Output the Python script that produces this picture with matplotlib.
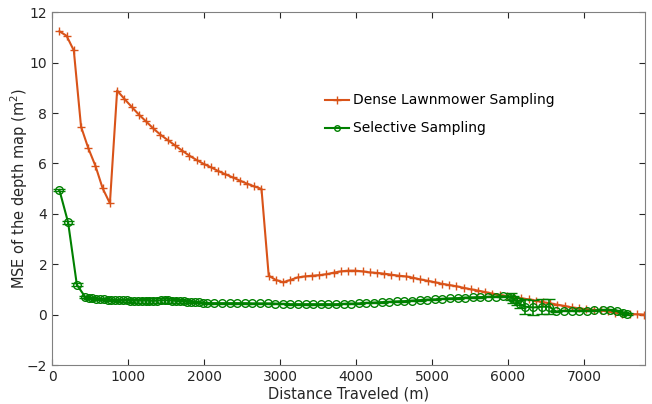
import matplotlib
matplotlib.use("Agg")
import matplotlib.pyplot as plt
from matplotlib.lines import Line2D

# Dense lawnmower sampling (orange)
dense_x = [95, 190, 285, 380, 475, 570, 665, 760, 855, 950,
           1045, 1140, 1235, 1330, 1425, 1520, 1615, 1710, 1805, 1900,
           1995, 2090, 2185, 2280, 2375, 2470, 2565, 2660, 2755, 2850,
           2945, 3040, 3135, 3230, 3325, 3420, 3515, 3610, 3705, 3800,
           3895, 3990, 4085, 4180, 4275, 4370, 4465, 4560, 4655, 4750,
           4845, 4940, 5035, 5130, 5225, 5320, 5415, 5510, 5605, 5700,
           5795, 5890, 5985, 6080, 6175, 6270, 6365, 6460, 6555, 6650,
           6745, 6840, 6935, 7030, 7125, 7220, 7315, 7410, 7505, 7600,
           7695, 7790]
dense_mse = [11.24, 11.06, 10.48, 7.46, 6.61, 5.90, 5.01, 4.42, 8.89, 8.56,
             8.25, 7.94, 7.67, 7.39, 7.14, 6.93, 6.72, 6.51, 6.31, 6.14,
             5.98, 5.85, 5.70, 5.57, 5.45, 5.32, 5.20, 5.09, 4.99, 1.55,
             1.38, 1.29, 1.38, 1.48, 1.52, 1.55, 1.57, 1.61, 1.67, 1.72,
             1.75, 1.75, 1.72, 1.68, 1.66, 1.63, 1.59, 1.55, 1.52, 1.47,
             1.40, 1.35, 1.29, 1.23, 1.18, 1.13, 1.07, 1.01, 0.96, 0.90,
             0.84, 0.79, 0.74, 0.69, 0.65, 0.61, 0.56, 0.50, 0.45, 0.40,
             0.35, 0.29, 0.25, 0.22, 0.20, 0.17, 0.13, 0.08, 0.05, 0.03,
             0.02, 0.01]

# Selective sampling (green) with error bars
sel_x = [95, 210, 325, 434, 480, 530, 580, 630, 680, 730,
         780, 830, 880, 930, 980, 1030, 1080, 1130, 1180, 1230,
         1280, 1330, 1380, 1430, 1480, 1530, 1580, 1630, 1680, 1730,
         1780, 1830, 1880, 1930, 1980, 2035, 2135, 2235, 2335, 2435,
         2535, 2635, 2735, 2835, 2935, 3035, 3135, 3235, 3335, 3435,
         3535, 3635, 3735, 3835, 3935, 4035, 4135, 4235, 4335, 4435,
         4535, 4635, 4735, 4835, 4935, 5035, 5135, 5235, 5335, 5435,
         5535, 5635, 5735, 5835, 5935, 6035, 6070, 6114, 6158, 6224,
         6333, 6443, 6544, 6632, 6737, 6838, 6938, 7035, 7136, 7246,
         7342, 7438, 7518, 7562]
sel_mse = [4.95, 3.66, 1.19, 0.71, 0.66, 0.65, 0.64, 0.62, 0.61, 0.60,
           0.59, 0.58, 0.58, 0.57, 0.57, 0.56, 0.56, 0.56, 0.56, 0.56,
           0.56, 0.55, 0.56, 0.57, 0.57, 0.57, 0.56, 0.55, 0.54, 0.53,
           0.52, 0.51, 0.50, 0.49, 0.48, 0.46, 0.46, 0.46, 0.46, 0.46,
           0.46, 0.45, 0.45, 0.45, 0.44, 0.43, 0.42, 0.42, 0.42, 0.42,
           0.42, 0.42, 0.42, 0.43, 0.44, 0.45, 0.47, 0.48, 0.50, 0.51,
           0.53, 0.54, 0.56, 0.58, 0.60, 0.61, 0.63, 0.65, 0.66, 0.68,
           0.69, 0.70, 0.71, 0.72, 0.73, 0.72, 0.62, 0.53, 0.42, 0.32,
           0.29, 0.32, 0.32, 0.13, 0.16, 0.16, 0.16, 0.16, 0.17, 0.19,
           0.19, 0.16, 0.07, 0.03]
sel_err = [0.05, 0.05, 0.05, 0.05, 0.04, 0.04, 0.04, 0.04, 0.04, 0.04,
           0.05, 0.05, 0.06, 0.06, 0.07, 0.07, 0.08, 0.08, 0.08, 0.09,
           0.09, 0.10, 0.10, 0.10, 0.10, 0.10, 0.09, 0.08, 0.07, 0.06,
           0.05, 0.04, 0.04, 0.03, 0.03, 0.02, 0.02, 0.02, 0.02, 0.02,
           0.02, 0.02, 0.02, 0.02, 0.02, 0.02, 0.02, 0.02, 0.02, 0.02,
           0.02, 0.02, 0.02, 0.02, 0.02, 0.02, 0.02, 0.02, 0.02, 0.02,
           0.02, 0.02, 0.02, 0.02, 0.02, 0.02, 0.02, 0.02, 0.02, 0.02,
           0.02, 0.02, 0.02, 0.02, 0.03, 0.14, 0.14, 0.15, 0.15, 0.30,
           0.30, 0.30, 0.30, 0.02, 0.02, 0.02, 0.02, 0.02, 0.02, 0.02,
           0.02, 0.03, 0.05, 0.05]

orange = (0.85, 0.325, 0.098)
green = (0.0, 0.5, 0.0)
axcol = (0.15, 0.15, 0.15)

fig = plt.figure(figsize=(6.52, 4.04), dpi=100)
ax = fig.add_axes([0.080, 0.096, 0.909, 0.874])

ax.plot(dense_x, dense_mse, color=orange, marker='+', markersize=6,
        linewidth=1.5)
ax.errorbar(sel_x, sel_mse, yerr=sel_err, color=green, marker='o',
            markersize=5.5, markerfacecolor='none', linewidth=1.5,
            capsize=4, elinewidth=1.2)

ax.set_xlim(0, 7800)
ax.set_ylim(-2, 12)
ax.set_xticks([0, 1000, 2000, 3000, 4000, 5000, 6000, 7000])
ax.set_yticks([-2, 0, 2, 4, 6, 8, 10, 12])
ax.tick_params(direction='in', top=True, right=True, length=4,
               labelsize=10, colors=axcol, labelcolor=axcol)
for s in ax.spines.values():
    s.set_color((0.5, 0.5, 0.5))
    s.set_linewidth(0.8)

ax.set_xlabel('Distance Traveled (m)', fontsize=10.5, color=axcol, labelpad=2)
ax.set_ylabel('MSE of the depth map (m$^2$)', fontsize=10.5, color=axcol)
ax.yaxis.set_label_coords(-0.038, 0.5)

# legend handles without the error bar caps
handles = [Line2D([], [], color=orange, marker='+', markersize=6, linewidth=1.5),
           Line2D([], [], color=green, marker='o', markersize=4,
                  markerfacecolor='none', linewidth=1.5)]
labels = ['Dense Lawnmower Sampling', 'Selective Sampling']
ax.legend(handles, labels, loc='upper left', bbox_to_anchor=(0.44, 0.805),
          frameon=False, fontsize=10, handlelength=1.7, handletextpad=0.3,
          labelspacing=1.0)

fig.savefig('out.png', dpi=100)
